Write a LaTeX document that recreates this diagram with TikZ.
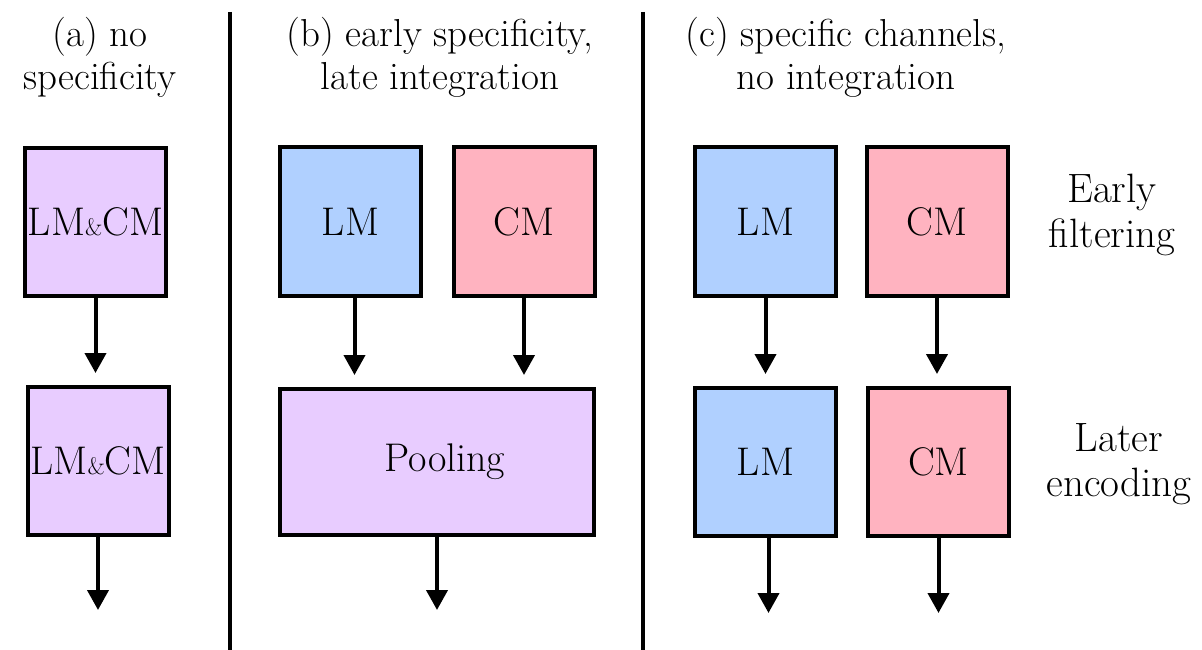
\documentclass[tikz,border=0pt]{standalone}
\usetikzlibrary{arrows.meta}
\definecolor{purp}{HTML}{E8CCFF}
\definecolor{lmblue}{HTML}{B0D0FF}
\definecolor{cmpink}{HTML}{FFB3C0}
\begin{document}
\begin{tikzpicture}[x=1pt,y=-1pt,
  every node/.style={font=\rmfamily\fontsize{40}{43}\selectfont, inner sep=0pt, outer sep=0pt},
  box/.style={draw=black, line width=4pt, minimum width=141pt, minimum height=148pt},
  both/.style={box, fill=purp},
  lmbox/.style={box, fill=lmblue},
  cmbox/.style={box, fill=cmpink},
  title/.style={align=center, font=\rmfamily\fontsize{39}{43}\selectfont},
  side/.style={align=center, font=\rmfamily\fontsize{41}{45}\selectfont},
  arr/.style={line width=4pt, -{Triangle[width=21pt,length=20pt]}},
  sep/.style={line width=4pt}
]
\useasboundingbox (0,0) rectangle (1202,650);

% separators
\coordinate (s1t) at (230,12);
\coordinate (s1b) at (230,650);
\coordinate (s2t) at (643,12);
\coordinate (s2b) at (643,650);
\draw[sep] (s1t) -- (s1b);
\draw[sep] (s2t) -- (s2b);

% titles
\node[title] (ta) at (100,57) {(a) no\\specificity};
\node[title] (tb) at (440,57) {(b) early specificity,\\late integration};
\node[title] (tc) at (846,57) {(c) specific channels,\\no integration};

% panel a
\node[both] (a1) at (95.5,222) {LM{\fontsize{24}{26}\selectfont\&}CM};
\node[both] (a2) at (98,461) {LM{\fontsize{24}{26}\selectfont\&}CM};
\coordinate (aend) at (98,610);
\draw[arr] (a1.south) -- ([yshift=14pt]a1.south |- a2.north);
\draw[arr] (a2.south) -- (a2.south |- aend);

% panel b
\node[lmbox] (blm) at (350.5,221.5) {LM};
\node[cmbox] (bcm) at (524,221.5) {CM};
\node[both, minimum width=314pt, minimum height=146pt] (pool) at (437,462) {\hspace{16pt}Pooling};
\coordinate (bend) at (437,610);
\draw[arr] ([xshift=4pt]blm.south) -- ([xshift=4pt,yshift=14pt]blm.south |- pool.north);
\draw[arr] (bcm.south) -- ([yshift=14pt]bcm.south |- pool.north);
\draw[arr] (pool.south) -- (pool.south |- bend);

% panel c
\node[lmbox] (clm1) at (765.5,221.5) {LM};
\node[cmbox] (ccm1) at (937,221.5) {CM};
\node[lmbox] (clm2) at (765.5,462) {LM};
\node[cmbox] (ccm2) at (938.5,462) {CM};
\coordinate (cend) at (768,613);
\draw[arr] (clm1.south) -- ([yshift=14pt]clm1.south |- clm2.north);
\draw[arr] (ccm1.south) -- ([yshift=14pt]ccm1.south |- ccm2.north);
\draw[arr] ([xshift=3pt]clm2.south) -- ([xshift=3pt]clm2.south |- cend);
\draw[arr] (ccm2.south) -- (ccm2.south |- cend);

% side labels
\node[side] (early) at (1112,215) {Early\\filtering};
\node[side] (later) at (1119,464) {Later\\encoding};
\end{tikzpicture}
\end{document}
